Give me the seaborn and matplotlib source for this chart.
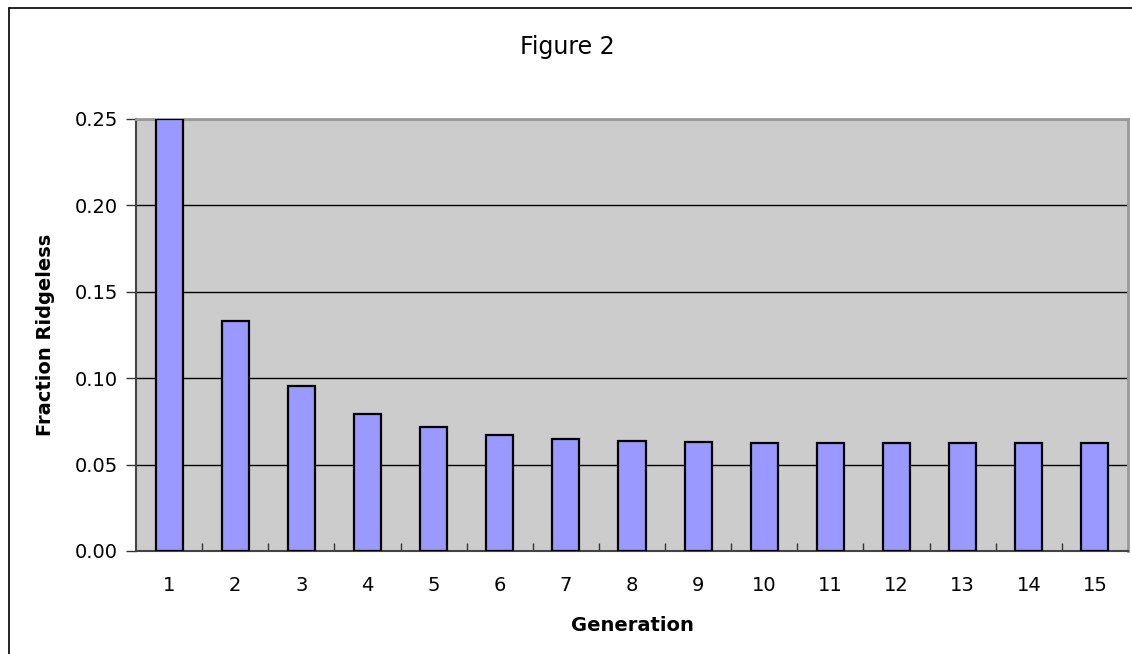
import numpy as np
import pandas as pd
import matplotlib
matplotlib.use("Agg")
import matplotlib.pyplot as plt
import seaborn as sns
from matplotlib.lines import Line2D

# values
generations = [str(g) for g in range(1, 16)]
fraction_ridgeless = [0.250, 0.1333, 0.0957, 0.0795, 0.0715, 0.0673, 0.0650,
                      0.0638, 0.0631, 0.0627, 0.0624, 0.0624, 0.0624, 0.0624, 0.0624]
y_ticks = [0.00, 0.05, 0.10, 0.15, 0.20, 0.25]

df = pd.DataFrame({"Generation": generations, "Fraction": fraction_ridgeless})

sns.set_style("white")
plt.rcParams["font.family"] = ["DejaVu Sans"]
plt.rcParams["text.color"] = "black"
plt.rcParams["axes.labelcolor"] = "black"
plt.rcParams["xtick.color"] = "black"
plt.rcParams["ytick.color"] = "black"

fig = plt.figure(figsize=(11.32, 6.54), dpi=100)
ax = fig.add_axes([136 / 1132, 1 - 551 / 654, (1128 - 136) / 1132, (551 - 119) / 654])
ax.set_facecolor("#CCCCCC")

sns.barplot(data=df, x="Generation", y="Fraction", color="#9999FF",
            saturation=1, width=0.41, edgecolor="black", linewidth=1.6, ax=ax, zorder=3)

ax.set_xlim(-0.5, len(generations) - 0.5)
ax.set_ylim(0, 0.25)
ax.set_yticks(y_ticks)
ax.set_yticklabels([f"{v:.2f}" for v in y_ticks])
ax.yaxis.grid(True, color="black", linewidth=1.0, zorder=1)
ax.set_axisbelow(True)

# category boundary ticks pointing in, none under labels
ax.set_xticks(np.arange(0.5, len(generations) - 1, 1), minor=True)
ax.tick_params(axis="x", which="major", length=0, pad=18, labelsize=14, bottom=True)
ax.tick_params(axis="x", which="minor", direction="in", length=6, width=1,
               color="#333333", bottom=True)
ax.tick_params(axis="y", which="major", direction="out", length=7, width=1,
               color="#333333", pad=6, labelsize=14, left=True)

for side in ["left", "bottom"]:
    ax.spines[side].set_color("#444444")
    ax.spines[side].set_linewidth(1.5)
for side in ["top", "right"]:
    ax.spines[side].set_color("#999999")
    ax.spines[side].set_linewidth(2)

ax.set_xlabel("Generation", fontsize=14, fontweight="semibold", labelpad=15)
ax.set_ylabel("Fraction Ridgeless", fontsize=14, fontweight="semibold", labelpad=14)
fig.text(567 / 1132, 1 - 47 / 654, "Figure 2", ha="center", va="center",
         fontsize=17, fontweight="medium")

# outer chart border (left and top edges visible)
fig.add_artist(Line2D([9 / 1132, 9 / 1132], [0, 1 - 8 / 654], color="black", linewidth=1.2))
fig.add_artist(Line2D([9 / 1132, 1], [1 - 8 / 654, 1 - 8 / 654], color="black", linewidth=1.2))

fig.savefig("out.png", dpi=100)
